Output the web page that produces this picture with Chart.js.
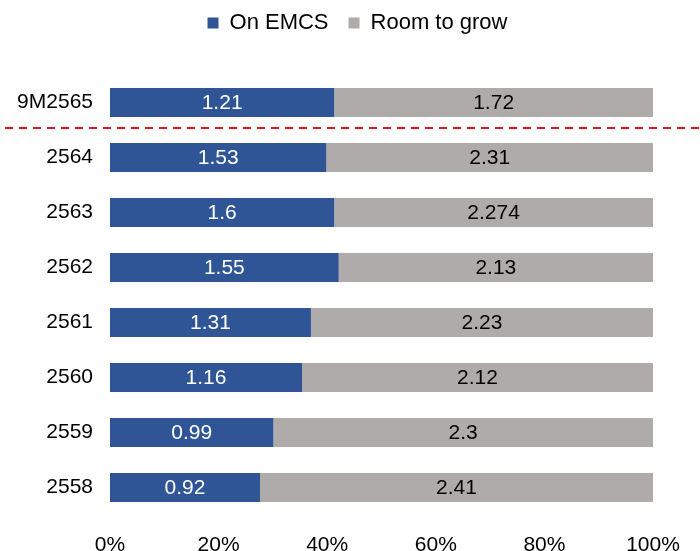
<!DOCTYPE html>
<html>
<head>
<meta charset="utf-8">
<script src="https://cdn.jsdelivr.net/npm/chart.js@4"></script>
<style>
  html, body { margin: 0; padding: 0; background: #fff; }
  #wrap { width: 700px; height: 551px; }
</style>
</head>
<body>
<div id="wrap"><canvas id="emcsChart"></canvas></div>
<script>
const categories = ['9M2565', '2564', '2563', '2562', '2561', '2560', '2559', '2558'];
const onEmcs = [1.21, 1.53, 1.6, 1.55, 1.31, 1.16, 0.99, 0.92];
const roomToGrow = [1.72, 2.31, 2.274, 2.13, 2.23, 2.12, 2.3, 2.41];
const xTicks = [0, 20, 40, 60, 80, 100];

const fontFamily = '"Liberation Sans Narrow", "Liberation Sans", Arial, sans-serif';
const fontSize = 21;
const blue = '#2F5597';
const grey = '#AFABAB';

// share of each year's total, so every bar fills 0-100%
function toPercent(part, other) {
    return part.map((v, i) => v / (v + other[i]) * 100);
}

// writes the raw value in the middle of each segment
const segmentLabels = {
    id: 'segmentLabels',
    afterDatasetsDraw(chart) {
        const ctx = chart.ctx;
        const raw = [onEmcs, roomToGrow];
        const colors = ['#ffffff', '#000000'];
        ctx.save();
        ctx.font = fontSize + 'px ' + fontFamily;
        ctx.textAlign = 'center';
        ctx.textBaseline = 'middle';
        chart.data.datasets.forEach((ds, d) => {
            chart.getDatasetMeta(d).data.forEach((bar, i) => {
                const mid = (bar.x + bar.base) / 2;
                ctx.fillStyle = colors[d];
                ctx.fillText(String(raw[d][i]), mid, bar.y + 1);
            });
        });
        ctx.restore();
    }
};

// red dashed separator between the partial year and the full years
const separator = {
    id: 'separator',
    afterDraw(chart) {
        const y = chart.scales.y;
        const yPos = (y.getPixelForValue(0) + y.getPixelForValue(1)) / 2 - 2;
        const ctx = chart.ctx;
        ctx.save();
        ctx.strokeStyle = '#E0141E';
        ctx.lineWidth = 2;
        ctx.setLineDash([8, 6]);
        ctx.beginPath();
        ctx.moveTo(5, yPos);
        ctx.lineTo(700, yPos);
        ctx.stroke();
        ctx.restore();
    }
};

// wider gap under the legend, legend nudged up and centred over the canvas
const legendGap = {
    id: 'legendGap',
    afterInit(chart) {
        const legend = chart.legend;
        const fit = legend.fit;
        legend.fit = function () {
            fit.call(this);
            this.height += 23;
        };
    },
    afterLayout(chart) {
        const legend = chart.legend;
        legend.left += 31;
        legend.right += 31;
        legend.top -= 8;
        legend.bottom -= 8;
    }
};

const ctx = document.getElementById('emcsChart').getContext('2d');
const myChart = new Chart(ctx, {
    type: 'bar',
    data: {
        labels: categories,
        datasets: [{
            label: 'On EMCS',
            data: toPercent(onEmcs, roomToGrow),
            backgroundColor: blue,
            borderWidth: 0
        }, {
            label: 'Room to grow',
            data: toPercent(roomToGrow, onEmcs),
            backgroundColor: grey,
            borderWidth: 0
        }]
    },
    options: {
        indexAxis: 'y',
        responsive: true,
        maintainAspectRatio: false,
        animation: false,
        datasets: {
            bar: { categoryPercentage: 1, barPercentage: 0.53 }
        },
        layout: { padding: { top: 0, right: 47, bottom: 0, left: 0 } },
        scales: {
            x: {
                stacked: true,
                min: 0,
                max: 100,
                afterBuildTicks(scale) {
                    scale.ticks = xTicks.map(v => ({ value: v }));
                },
                afterFit(scale) { scale.height = 36; },
                grid: { display: false, drawTicks: false },
                border: { display: false },
                ticks: {
                    color: '#000',
                    padding: 18,
                    font: { family: fontFamily, size: fontSize },
                    callback: v => v + '%'
                }
            },
            y: {
                stacked: true,
                afterFit(scale) { scale.width = 110; },
                grid: { display: false, drawTicks: false },
                border: { display: false },
                ticks: {
                    color: '#000',
                    padding: 17,
                    font: { family: fontFamily, size: fontSize }
                }
            }
        },
        plugins: {
            legend: {
                position: 'top',
                labels: {
                    color: '#000',
                    boxWidth: 11,
                    boxHeight: 11,
                    padding: 20,
                    font: { family: fontFamily, size: 22 }
                }
            },
            tooltip: { enabled: false }
        }
    },
    plugins: [segmentLabels, separator, legendGap]
});
</script>
</body>
</html>
